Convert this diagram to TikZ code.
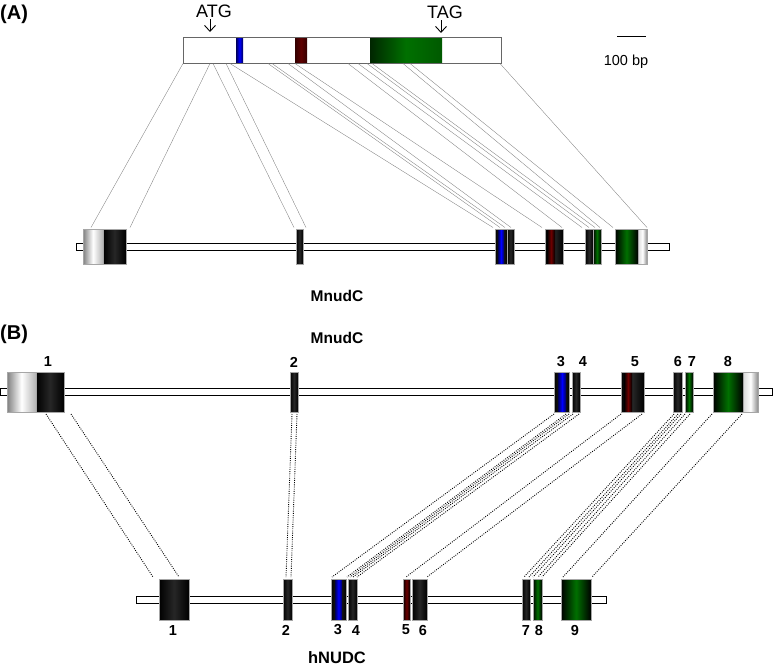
\documentclass[tikz,border=0pt]{standalone}
\usepackage{fontspec}
\setmainfont{Liberation Sans}
\usetikzlibrary{arrows.meta}
\definecolor{grn}{RGB}{0,112,0}
\definecolor{dred}{RGB}{110,0,0}
\definecolor{cred}{RGB}{95,0,0}
\begin{document}
\begin{tikzpicture}[x=1pt,y=-1pt,
  dk/.style={left color=black,right color=black,middle color=black!85},
  utr/.style={left color=black!50,right color=black!30,middle color=white},
  utrr/.style={left color=black!15,right color=black!45,middle color=white},
  gr/.style={left color=black,right color=black,middle color=grn},
  bl/.style={left color=blue!35!black,right color=blue!35!black,middle color=blue},
  rd/.style={left color=black,right color=black,middle color=dred},
  exb/.style={draw=black!35,line width=0.4pt},
  intron/.style={draw=black,fill=white,line width=0.9pt},
  mapA/.style={draw=black!50,line width=0.35pt},
  mapB/.style={draw=black,line width=0.9pt,dash pattern=on 0.9pt off 1.3pt},
  num/.style={font=\bfseries\fontsize{14.5}{15}\selectfont,inner sep=0pt},
  gname/.style={font=\bfseries\fontsize{15.5}{16}\selectfont,inner sep=0pt},
  panel/.style={font=\bfseries\fontsize{20}{20}\selectfont,inner sep=0pt,anchor=west},
  plain/.style={font=\fontsize{18}{18}\selectfont,inner sep=0pt},
  codon/.style={line width=0.9pt,-{Straight Barb[length=6pt,width=11pt]}}]
\useasboundingbox (0,0) rectangle (773,667);
\newcommand\exon[5]{\shadedraw[exb,#5] (#1,#3) rectangle (#2,#4);}
\newcommand\stripe[5]{\shade[#5] (#1,#3) rectangle (#2,#4);}

% ---------------- Panel A ----------------
\node[panel] (pA) at (0,14) {(A)};
\node[plain] (atg) at (214,11) {ATG};
\node[plain] (tag) at (445,12) {TAG};
\coordinate (atgt) at (210,19);
\coordinate (atgb) at (210,32);
\coordinate (tagt) at (441,20);
\coordinate (tagb) at (441,33);
\draw[codon] (atgt) -- (atgb);
\draw[codon] (tagt) -- (tagb);
% scale bar
\coordinate (sbl) at (617,36);
\coordinate (sbr) at (646,36);
\draw[line width=0.8pt] (sbl) -- (sbr);
\node[plain,font=\fontsize{14.5}{15}\selectfont] (bp) at (626,62) {100 bp};

% cDNA bar
\fill[white] (183,37.5) rectangle (501,63);
\shade[bl] (236,37.5) rectangle (243,63);
\shade[left color=black!80!red,right color=black!80!red,middle color=cred] (295,37.5) rectangle (307,63);
\shade[left color=black!85!green,right color=green!35!black,middle color=grn] (370,37.5) rectangle (442,63);
\draw[black!60,line width=0.9pt] (183,37.5) rectangle (501,63);

% mapping lines A
\foreach \i/\u/\l in {1/183/91,2/210/130,3/213/294,4/226/306,5/230/493,6/268/500,
  7/272/505,8/288/511,9/295/542,10/348/562,11/358/582,12/367/589,13/372/595,
  14/403/600,15/410/613,16/500/647}{
  \coordinate (At\i) at (\u,63.5);
  \coordinate (Ab\i) at (\l,227.5);
  \draw[mapA] (At\i) -- (Ab\i);
}

% gene A
\draw[intron] (76,243.5) rectangle (669,250);
\exon{83}{103}{229}{264}{utr}
\exon{103}{126}{229}{264}{dk}
\exon{296}{303}{229}{264}{dk}
\exon{495}{507}{229}{264}{dk}
\stripe{498}{504}{230}{263}{bl}
\exon{507}{514}{229}{264}{dk}
\exon{545}{563}{229}{264}{dk}
\stripe{547}{555}{230}{263}{rd}
\exon{585}{593}{229}{264}{dk}
\exon{593}{601}{229}{264}{gr}
\exon{615}{638}{229}{264}{gr}
\exon{638}{647}{229}{264}{utrr}
\node[gname] (mA) at (337,296) {MnudC};

% ---------------- Panel B ----------------
\node[panel] (pB) at (0,334) {(B)};
\node[gname] (mB) at (337,338) {MnudC};

% mapping lines B
\foreach \i/\u/\l in {1/46/153,2/71/179,3/292/286,4/297/291,5/554/332,6/566/347,
  7/569/350,8/573/353,9/579/357,10/621/406,11/642/427,12/674/524,13/678/529,
  14/681/533,15/685/538,16/690/542,17/712/563,18/742/592}{
  \coordinate (Bt\i) at (\u,414);
  \coordinate (Bb\i) at (\l,577);
  \draw[mapB] (Bt\i) -- (Bb\i);
}

% MnudC gene B
\draw[intron] (0,388.5) rectangle (772,395.5);
\exon{7}{36}{372}{412}{utr}
\exon{36}{64}{372}{412}{dk}
\exon{290}{298}{372}{412}{dk}
\exon{554}{569}{372}{412}{dk}
\stripe{558}{566}{373}{411}{bl}
\exon{572}{580}{372}{412}{dk}
\exon{621}{644}{372}{412}{dk}
\stripe{624}{632}{373}{411}{rd}
\exon{673}{682}{372}{412}{dk}
\exon{685}{693}{372}{412}{gr}
\exon{713}{743}{372}{412}{gr}
\exon{743}{758}{372}{412}{utrr}

\foreach \n/\x in {1/48,2/294,3/561,4/583,5/635,6/678,7/692,8/728}{
  \node[num] (tn\n) at (\x,362) {\n};
}

% hNUDC gene
\draw[intron] (136,596.5) rectangle (606,603);
\exon{159}{189}{579}{620}{dk}
\exon{283}{292}{579}{620}{dk}
\exon{331}{346}{579}{620}{dk}
\stripe{335}{342}{580}{619}{bl}
\exon{348}{357}{579}{620}{dk}
\exon{403}{410}{579}{620}{rd}
\exon{412}{427}{579}{620}{dk}
\exon{522}{530}{579}{620}{dk}
\exon{533}{542}{579}{620}{gr}
\exon{561}{591}{579}{620}{gr}

\foreach \n/\x in {1/173,2/286,3/338,4/356,5/406,6/423,7/526,8/539,9/575}{
  \node[num] (bn\n) at (\x,630) {\n};
}
\node[gname,font=\bfseries\fontsize{16.5}{17}\selectfont] (hN) at (337,658) {hNUDC};
\end{tikzpicture}
\end{document}
